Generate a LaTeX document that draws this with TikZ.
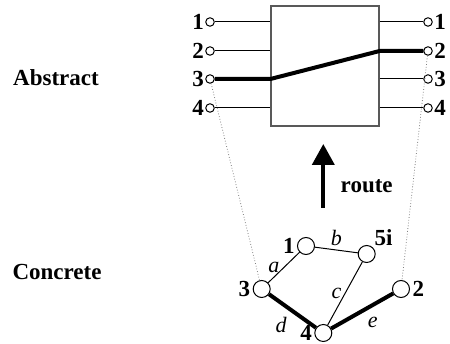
\documentclass[tikz,border=0pt]{standalone}
\usepackage{fontspec}
\setmainfont{Liberation Serif}
\usetikzlibrary{positioning,arrows.meta}

\begin{document}
\begin{tikzpicture}[x=1pt,y=-1pt,line width=1pt,
    term/.style={circle,draw,inner sep=0pt,minimum size=8.5pt,fill=white},
    vert/.style={circle,draw,inner sep=0pt,minimum size=17pt,fill=white},
    lab/.style={font=\fontsize{23}{27}\selectfont\bfseries},
    elab/.style={font=\fontsize{22}{26}\selectfont\itshape,inner sep=1pt},
    heavy/.style={line width=4pt},
    guide/.style={dotted,gray,line width=0.8pt}]
      \useasboundingbox (0,0) rectangle (450,344);
      \node[lab] (abs) at (56,78) {Abstract};
      \node[lab] (con) at (57,272) {Concrete};
      % switch box
      \node[draw=black!65,line width=1.2pt,minimum width=108pt,minimum height=120pt,inner sep=0pt] (box) at (325,66) {};
      \foreach \i/\y in {1/22,2/51,3/79,4/108} {
        \node[term,label={[lab,inner sep=1pt]left:\i}] (l\i) at (210,\y) {};
        \node[term,label={[lab,inner sep=1pt]right:\i}] (r\i) at (428,\y) {};
        \coordinate (bl\i) at (box.west |- l\i);
        \coordinate (br\i) at (box.east |- r\i);
      }
      \foreach \i in {1,2,4} \draw (l\i) -- (bl\i);
      \foreach \i in {1,3,4} \draw (br\i) -- (r\i);
      \draw[heavy] (l3) -- (bl3) -- (br2) -- (r2);
      % route arrow
      \coordinate (rtail) at (323.3,208);
      \coordinate (rhead) at (323.3,144);
      \draw[line width=4pt,-{Triangle[width=22pt,length=21pt]}] (rtail) -- (rhead);
      \node[lab] (route) at (366.7,186) {route};
      % concrete graph
      \node[vert,label={[lab,inner sep=2pt]left:1}] (v1) at (306,246) {};
      \node[vert,label={[lab,inner sep=1pt]above right:5i}] (v5) at (366.7,254) {};
      \node[vert,label={[lab,inner sep=2pt]left:3}] (v3) at (261.7,289) {};
      \node[vert,label={[lab,inner sep=2pt]left:4}] (v4) at (323.3,333) {};
      \node[vert,label={[lab,inner sep=2pt]right:2}] (v2) at (401,289) {};
      \draw (v3) -- (v1) node[midway,left=3pt,elab] {a};
      \draw (v1) -- (v5) node[midway,above=3pt,elab] {b};
      \draw (v5) -- (v4) node[midway,left=2pt,elab] {c};
      \draw[heavy] (v3) -- (v4) node[midway,below left=4pt,elab] {d};
      \draw[heavy] (v4) -- (v2) node[midway,below right=4pt,elab] {e};
      \draw[guide] (l3) -- (v3);
      \draw[guide] (r2) -- (v2);
    \end{tikzpicture}
\end{document}
